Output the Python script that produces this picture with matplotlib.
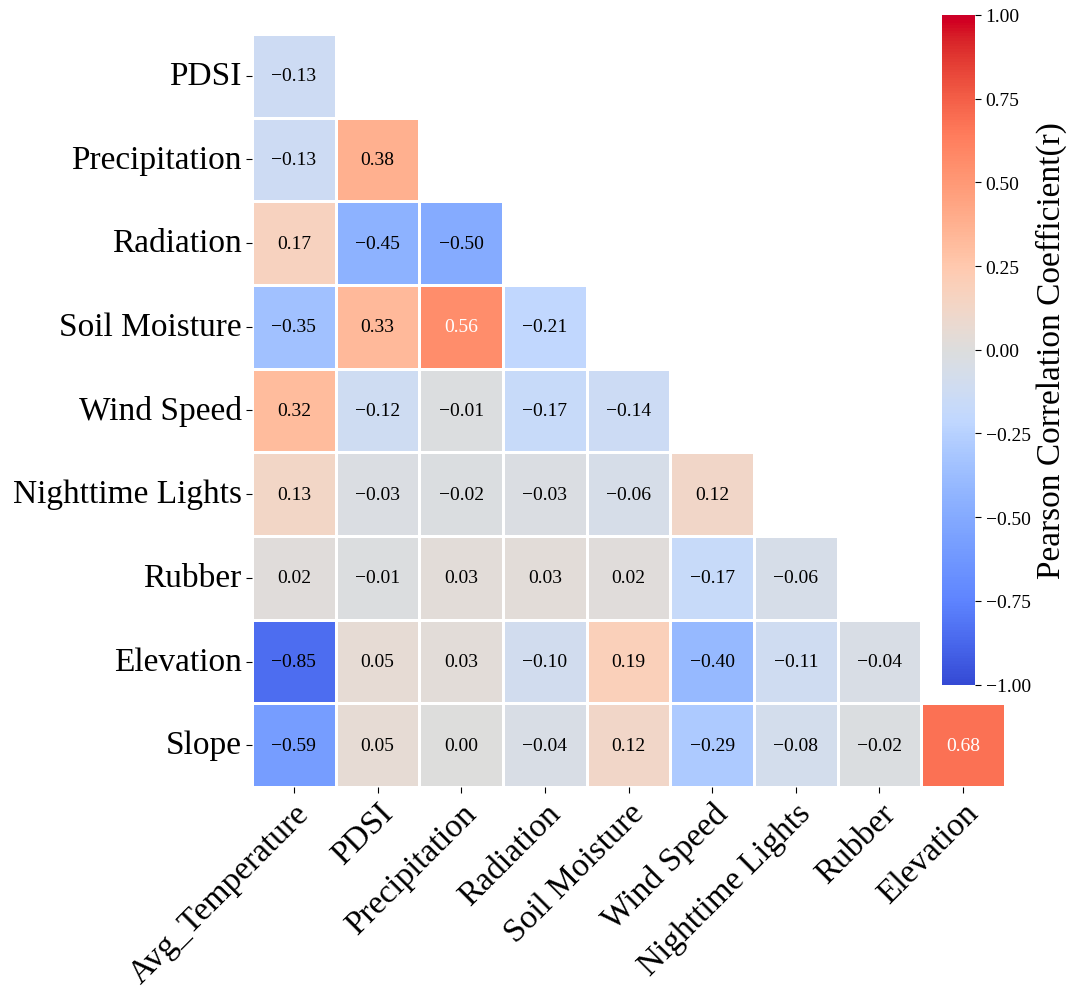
import numpy as np
import matplotlib
matplotlib.use('Agg')
import matplotlib.pyplot as plt
import matplotlib.colors as mcolors
from matplotlib.ticker import FuncFormatter
import seaborn as sns

plt.rcParams['font.family'] = ['Liberation Serif', 'DejaVu Serif']
plt.rcParams['axes.unicode_minus'] = True

# Etiquetas
row_labels = ['PDSI', 'Precipitation', 'Radiation', 'Soil Moisture', 'Wind Speed',
              'Nighttime Lights', 'Rubber', 'Elevation', 'Slope']
col_labels = ['Avg_Temperature', 'PDSI', 'Precipitation', 'Radiation', 'Soil Moisture',
              'Wind Speed', 'Nighttime Lights', 'Rubber', 'Elevation']

# Coeficientes (triangulo inferior, fila por fila)
r_pdsi = [-0.13]
r_precip = [-0.13, 0.38]
r_rad = [0.17, -0.45, -0.50]
r_soil = [-0.35, 0.33, 0.56, -0.21]
r_wind = [0.32, -0.12, -0.01, -0.17, -0.14]
r_lights = [0.13, -0.03, -0.02, -0.03, -0.06, 0.12]
r_rubber = [0.02, -0.01, 0.03, 0.03, 0.02, -0.17, -0.06]
r_elev = [-0.85, 0.05, 0.03, -0.10, 0.19, -0.40, -0.11, -0.04]
r_slope = [-0.59, 0.05, 0.00, -0.04, 0.12, -0.29, -0.08, -0.02, 0.68]

rows = [r_pdsi, r_precip, r_rad, r_soil, r_wind, r_lights, r_rubber, r_elev, r_slope]
n = len(row_labels)
M = np.full((n, n), np.nan)
for i, r in enumerate(rows):
    M[i, :len(r)] = r

# coolwarm un poco mas saturado (como en la figura original)
base = plt.get_cmap('coolwarm')(np.linspace(0, 1, 256))[:, :3]
hsv = mcolors.rgb_to_hsv(base)
hsv[:, 1] = np.clip(hsv[:, 1] * 1.08, 0, 1)
hsv[:, 2] = np.clip(hsv[:, 2] * (1 + 0.14 * hsv[:, 1]), 0, 1)
mycmap = mcolors.ListedColormap(mcolors.hsv_to_rgb(hsv))

def fmt_minus(x, pos=None):
    return f'{x:.2f}'.replace('-', '\u2212')

fig = plt.figure(figsize=(10.68, 9.95), dpi=100)
ax = fig.add_axes([0.236, 0.208, 0.705, 0.757])
cax = fig.add_axes([0.882, 0.311, 0.031, 0.673])

sns.heatmap(M, ax=ax, cbar_ax=cax, cmap=mycmap, vmin=-1, vmax=1,
            linewidths=1, linecolor='white', square=False,
            xticklabels=col_labels, yticklabels=row_labels,
            cbar_kws={'ticks': np.arange(-1, 1.01, 0.25),
                      'format': FuncFormatter(fmt_minus)})

# Anotaciones
for i in range(n):
    for j in range(len(rows[i])):
        v = M[i, j]
        c = 'white' if v > 0.5 else 'black'
        ax.text(j + 0.5, i + 0.5, fmt_minus(v),
                ha='center', va='center', fontsize=14, color=c)

ax.tick_params(axis='y', labelsize=24, rotation=0, length=4)
ax.tick_params(axis='x', labelsize=24, length=4)
plt.setp(ax.get_xticklabels(), rotation=45, ha='right', rotation_mode='anchor')

cax.tick_params(labelsize=14, length=4)
cax.set_ylabel('Pearson Correlation Coefficient(r)', fontsize=24)

fig.savefig('out.png', dpi=100)
